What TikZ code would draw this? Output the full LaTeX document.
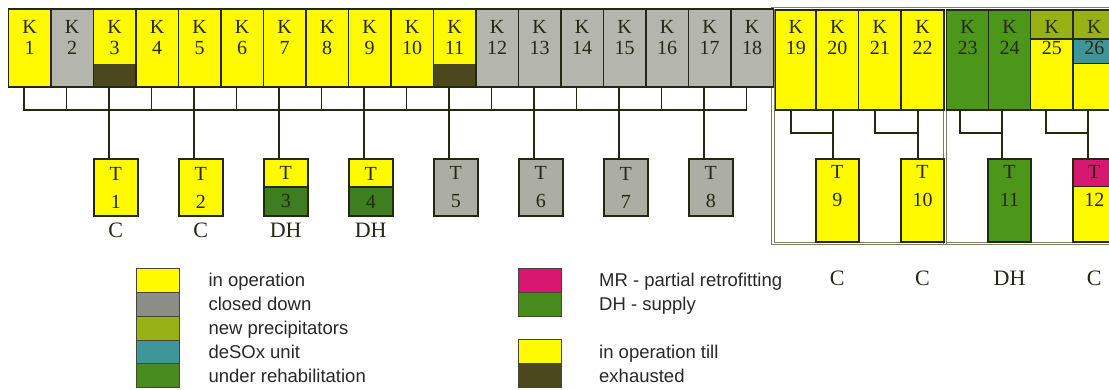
\documentclass[tikz,border=0pt]{standalone}
\usepackage{fontspec}
\setmainfont{Liberation Serif}
\newfontfamily\lsans{Liberation Sans}
\usetikzlibrary{calc}
\definecolor{yel}{RGB}{255,250,0}
\definecolor{kg}{RGB}{180,181,172}
\definecolor{tg}{RGB}{172,174,164}
\definecolor{exh}{RGB}{76,72,30}
\definecolor{kgreen}{RGB}{76,150,26}
\definecolor{tgreen}{RGB}{62,125,32}
\definecolor{oliv}{RGB}{152,178,22}
\definecolor{teal2}{RGB}{62,150,152}
\definecolor{mag}{RGB}{214,24,112}
\definecolor{lc}{RGB}{36,40,18}
\definecolor{txt}{RGB}{38,40,18}
\definecolor{fc}{RGB}{125,125,100}
\definecolor{lgg}{RGB}{140,141,132}
\definecolor{lgrn}{RGB}{72,140,30}
\definecolor{ltx}{RGB}{40,40,40}
\definecolor{lgb}{RGB}{70,70,55}
\tikzset{
  box/.style={rectangle, draw=lc, line width=1.5pt, inner sep=0pt, outer sep=0pt},
  kbox/.style={box, minimum width=42.5pt, minimum height=78pt, anchor=north west},
  tbox/.style={box, minimum width=44pt, minimum height=57pt},
  rtbox/.style={box, minimum width=43pt, minimum height=83pt},
  plain/.style={},
  exhbot/.style={path picture={\fill[exh] (path picture bounding box.south west) rectangle ([yshift=23pt]path picture bounding box.south east);}},
  tbot/.style={path picture={\fill[tgreen] (path picture bounding box.south west) rectangle ([yshift=29pt]path picture bounding box.south east);
     \draw[lc,line width=1.2pt] ([yshift=29pt]path picture bounding box.south west) -- ([yshift=29pt]path picture bounding box.south east);}},
  k25top/.style={path picture={\fill[oliv] (path picture bounding box.north west) rectangle ([yshift=-29pt]path picture bounding box.north east);
     \draw[lc,line width=1.2pt] ([yshift=-29pt]path picture bounding box.north west) -- ([yshift=-29pt]path picture bounding box.north east);}},
  k26top/.style={path picture={\fill[oliv] (path picture bounding box.north west) rectangle ([yshift=-29pt]path picture bounding box.north east);
     \fill[teal2] ([yshift=-29pt]path picture bounding box.north west) rectangle ([yshift=-53pt]path picture bounding box.north east);
     \draw[lc,line width=1.2pt] ([yshift=-29pt]path picture bounding box.north west) -- ([yshift=-29pt]path picture bounding box.north east);
     \draw[lc,line width=0.8pt] ([yshift=-53pt]path picture bounding box.north west) -- ([yshift=-53pt]path picture bounding box.north east);}},
  t12top/.style={path picture={\fill[mag] (path picture bounding box.north west) rectangle ([yshift=-27.7pt]path picture bounding box.north east);
     \draw[lc,line width=1.0pt] ([yshift=-27.7pt]path picture bounding box.north west) -- ([yshift=-27.7pt]path picture bounding box.north east);}},
  wire/.style={draw=lc, line width=1.7pt, line join=miter},
  ktext/.style={font=\fontsize{20}{21}\selectfont, text=txt, align=center, inner sep=0pt},
  ttext/.style={font=\fontsize{20}{28}\selectfont, text=txt, align=center, inner sep=0pt},
  lbl/.style={font=\fontsize{22}{24}\selectfont, text=txt, inner sep=0pt},
  frame/.style={draw=fc, line width=1.1pt, double=white, double distance=1.2pt},
  lbox/.style={rectangle, draw=lgb, line width=0.9pt, inner sep=0pt, outer sep=0pt, minimum width=43.3pt, minimum height=23.9pt, anchor=north west},
  ltext/.style={anchor=base west, font=\lsans\fontsize{18.5}{20}\selectfont, text=ltx, inner sep=0pt}
}
\begin{document}
\begin{tikzpicture}[x=1pt,y=-1pt]
\useasboundingbox (0,0) rectangle (1109,389);
\fill[white] (0,0) rectangle (1109,389);
\clip (0,0) rectangle (1109,389);
\coordinate (bus) at (0,110);
\coordinate (jn) at (0,133);
\coordinate (rtt) at (0,186);
\coordinate (tyr) at (0,200.5);
% frame of the right group
\draw[frame] (773,8.5) rectangle (1130,243.5);
\draw[frame] (945,8.5) -- (945,243.5);
% left boilers
\foreach \i/\c/\s in {1/yel/plain,2/kg/plain,3/yel/exhbot,4/yel/plain,5/yel/plain,6/yel/plain,7/yel/plain,8/yel/plain,9/yel/plain,10/yel/plain,11/yel/exhbot,12/kg/plain,13/kg/plain,14/kg/plain,15/kg/plain,16/kg/plain,17/kg/plain,18/kg/plain}{
  \pgfmathsetmacro\xa{8.3+42.5*(\i-1)}
  \pgfmathsetmacro\xc{\xa+21.25}
  \node[kbox,fill=\c,\s] (k\i) at (\xa,9) {};
  \node[ktext] (kl\i) at (\xc,37.5) {K\\\i};
  \coordinate (d\i) at ($(k\i.south)+(-5.5,0)$);
}
\draw[wire] (d1) -- (d1 |- bus) -- (d18 |- bus) -- (d18);
\foreach \i in {2,...,17}{
  \draw[wire] (d\i) -- (d\i |- bus);
}
% left turbines
\foreach \j/\c/\s in {1/yel/plain,2/yel/plain,3/yel/tbot,4/yel/tbot,5/tg/plain,6/tg/plain,7/tg/plain,8/tg/plain}{
  \pgfmathtruncatemacro\kk{2*\j+1}
  \pgfmathsetmacro\tx{8.3+42.5*(\kk-1)+21.25+1.2}
  \node[tbox,fill=\c,\s] (t\j) at (\tx,187.5) {};
  \node[ttext] (tl\j) at (t\j.center) {T\\\j};
  \draw[wire] (d\kk |- bus) -- (d\kk |- t\j.north);
}
\foreach \j/\l in {1/C,2/C,3/DH,4/DH}{
  \node[lbl,anchor=base] (cl\j) at ([yshift=-21.5pt]t\j.south) {\l};
}
% right boilers
\foreach \i/\xa/\w/\c/\s/\dx in {19/775.5/40.5/yel/plain/-4.7,20/816/42.5/yel/plain/-4.3,21/858.5/42.5/yel/plain/-4.7,22/901/43/yel/plain/-4.8,23/946.5/42/kgreen/plain/-7.5,24/988.5/42/kgreen/plain/-7.2,25/1030.5/42.5/yel/k25top/-6,26/1073/42.5/yel/k26top/-6.5}{
  \pgfmathsetmacro\xc{\xa+\w/2}
  \node[box,minimum width=\w pt,minimum height=100pt,anchor=north west,fill=\c,\s] (k\i) at (\xa,10) {};
  \node[ktext] (kl\i) at (\xc,37.5) {K\\\i};
  \coordinate (d\i) at ($(k\i.south)+(\dx,0)$);
}
% right turbines
\foreach \j/\a/\b/\c/\s/\l in {9/19/20/yel/plain/C,10/21/22/yel/plain/C,11/23/24/kgreen/plain/DH,12/25/26/yel/t12top/C}{
  \node[rtbox,fill=\c,\s] (t\j) at (k\b.center |- tyr) {};
  \node[ttext] (tl\j) at (t\j.center |- rtt) {T\\\j};
  \draw[wire] (d\a) -- (d\a |- jn) -- (d\b |- jn);
  \draw[wire] (d\b) -- (d\b |- t\j.north);
  \node[lbl,anchor=base] (cl\j) at ([yshift=-43.3pt]t\j.south) {\l};
}
% legend 1
\foreach \n/\c/\t in {1/yel/in operation,2/lgg/closed down,3/oliv/new precipitators,4/teal2/deSOx unit,5/lgrn/under rehabilitation}{
  \pgfmathsetmacro\ly{268.3+23.9*(\n-1)}
  \node[lbox,fill=\c] (la\n) at (136,\ly) {};
  \node[ltext] (lat\n) at ([xshift=29pt,yshift=-6.3pt]la\n.east) {\t};
}
% legend 2
\foreach \n/\y/\c/\t in {1/268.3/mag/MR - partial retrofitting,2/292.1/lgrn/DH - supply,3/339.5/yel/in operation till,4/363.5/exh/exhausted}{
  \node[lbox,minimum width=43.4pt,minimum height=24pt,fill=\c] (lm\n) at (518.3,\y) {};
  \node[ltext] (lmt\n) at ([xshift=37.3pt,yshift=-6.5pt]lm\n.east) {\t};
}
\end{tikzpicture}
\end{document}
